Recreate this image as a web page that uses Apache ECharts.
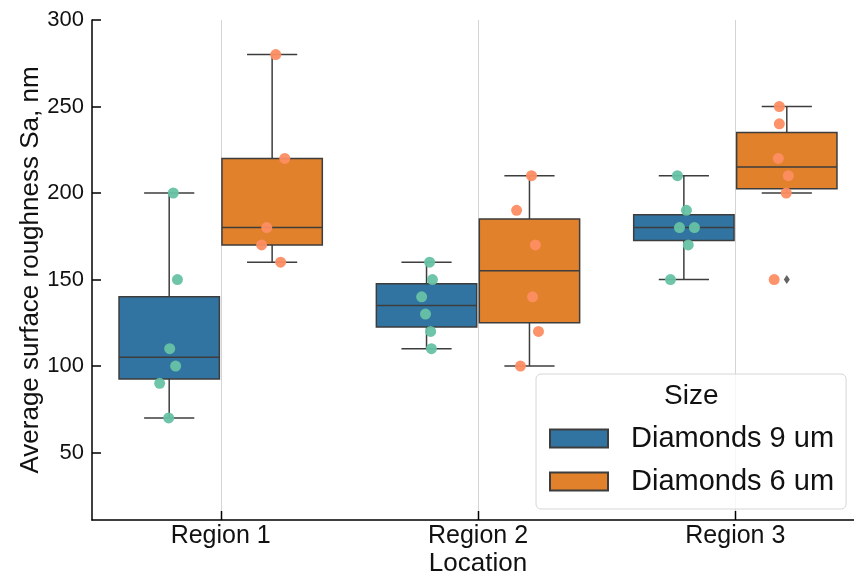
<!DOCTYPE html>
<html>
<head>
<meta charset="utf-8">
<title>Average surface roughness by location</title>
<script src="https://cdn.jsdelivr.net/npm/echarts@6/dist/echarts.min.js"></script>
<style>
  html, body { margin: 0; padding: 0; background: #ffffff; }
  #chart { width: 854px; height: 577px; }
</style>
</head>
<body>
<div id="chart"></div>
<script>
// Locations on the x axis
const categories = ['Region 1', 'Region 2', 'Region 3'];

// Measured Sa values (nm) per location, one list per diamond size
const sa9um = [
  [200, 150, 110, 100, 90, 70],
  [160, 150, 140, 130, 120, 110],
  [210, 190, 180, 180, 170, 150]
];
const sa6um = [
  [280, 220, 180, 170, 160],
  [210, 190, 170, 140, 120, 100],
  [250, 240, 220, 210, 200, 150]
];

// Horizontal strip jitter of each dot (in category widths)
const jitter9um = [
  [0.016, 0.032, 0.002, 0.025, -0.037, -0.002],
  [0.012, 0.023, -0.019, -0.004, 0.016, 0.019],
  [-0.025, 0.010, -0.017, 0.041, 0.017, -0.052]
];
const jitter6um = [
  [0.014, 0.049, -0.021, -0.041, 0.033],
  [0.008, -0.050, 0.023, 0.012, 0.035, -0.035],
  [-0.029, -0.029, -0.033, 0.006, -0.002, -0.049]
];

// Y axis tick labels
const yTicks = [50, 100, 150, 200, 250, 300];

const seriesNames = ['Diamonds 9 um', 'Diamonds 6 um'];
const boxColors = ['#3274a1', '#e1812c'];
const dotColors = ['#66c2a5', '#fc8d62'];
const EDGE = '#3d3d3d';
const FONT = "'Liberation Sans', Arial, sans-serif";
const HUE_OFFSET = [-0.2, 0.2];
const BOX_W = 0.39;

// linear-interpolated percentile
function percentile(sorted, p) {
  const pos = (sorted.length - 1) * p;
  const lo = Math.floor(pos), hi = Math.ceil(pos);
  return sorted[lo] + (sorted[hi] - sorted[lo]) * (pos - lo);
}

// Tukey box statistics: [x, q1, median, q3, whiskerLow, whiskerHigh] + outliers
function boxStats(values, x) {
  const s = values.slice().sort((a, b) => a - b);
  const q1 = percentile(s, 0.25), med = percentile(s, 0.5), q3 = percentile(s, 0.75);
  const iqr = q3 - q1;
  const inside = s.filter(v => v >= q1 - 1.5 * iqr && v <= q3 + 1.5 * iqr);
  const outliers = s.filter(v => v < q1 - 1.5 * iqr || v > q3 + 1.5 * iqr);
  return {
    box: [x, q1, med, q3, Math.min(...inside), Math.max(...inside)],
    outliers: outliers.map(v => [x, v])
  };
}

const groups = [sa9um, sa6um];
const jitters = [jitter9um, jitter6um];

const boxData = [[], []];
const outlierData = [];
const dotData = [[], []];
groups.forEach((g, h) => {
  g.forEach((vals, i) => {
    const x = i + HUE_OFFSET[h];
    const st = boxStats(vals, x);
    boxData[h].push(st.box);
    outlierData.push(...st.outliers);
    vals.forEach((v, k) => dotData[h].push([x + jitters[h][i][k], v]));
  });
});

function renderBox(params, api) {
  const x = api.value(0);
  const w = api.size([BOX_W, 0])[0];
  const p1 = api.coord([x, api.value(1)]);
  const cx = p1[0], yq1 = p1[1];
  const ymed = api.coord([x, api.value(2)])[1];
  const yq3 = api.coord([x, api.value(3)])[1];
  const ylo = api.coord([x, api.value(4)])[1];
  const yhi = api.coord([x, api.value(5)])[1];
  const cap = w / 4;
  const ls = { stroke: EDGE, lineWidth: 1.5 };
  return {
    type: 'group',
    children: [
      { type: 'line', shape: { x1: cx, y1: yq1, x2: cx, y2: ylo }, style: ls },
      { type: 'line', shape: { x1: cx, y1: yq3, x2: cx, y2: yhi }, style: ls },
      { type: 'line', shape: { x1: cx - cap, y1: ylo, x2: cx + cap, y2: ylo }, style: ls },
      { type: 'line', shape: { x1: cx - cap, y1: yhi, x2: cx + cap, y2: yhi }, style: ls },
      { type: 'rect', shape: { x: cx - w / 2, y: yq3, width: w, height: yq1 - yq3 },
        style: { fill: api.visual('color'), stroke: EDGE, lineWidth: 1.5 } },
      { type: 'line', shape: { x1: cx - w / 2, y1: ymed, x2: cx + w / 2, y2: ymed }, style: ls }
    ]
  };
}

// vertical category guide line plus the inward tick on the x axis
function renderGridLine(params, api) {
  const cs = params.coordSys;
  const x = Math.round(api.coord([api.value(0), 0])[0]) + 0.5;
  const bottom = cs.y + cs.height;
  return {
    type: 'group',
    children: [
      { type: 'line', shape: { x1: x, y1: cs.y, x2: x, y2: bottom },
        style: { stroke: '#d4d4d4', lineWidth: 1 } },
      { type: 'line', shape: { x1: x, y1: bottom - 9, x2: x, y2: bottom },
        style: { stroke: '#000', lineWidth: 1.5 } }
    ]
  };
}

const chart = echarts.init(document.getElementById('chart'), null, { renderer: 'canvas' });

const option = {
  animation: false,
  backgroundColor: '#ffffff',
  textStyle: { fontFamily: FONT },
  grid: { left: 92, top: 20, width: 772, height: 500, containLabel: false, outerBoundsMode: 'none' },
  title: {
    text: 'Size',
    left: 664, top: 381, padding: 0,
    textStyle: { fontFamily: FONT, fontSize: 28, fontWeight: 'normal', color: '#111', lineHeight: 30 }
  },
  legend: {
    data: seriesNames,
    orient: 'vertical',
    left: 536, top: 374,
    padding: [50, 12, 13, 13],
    itemGap: 14,
    itemWidth: 58, itemHeight: 18,
    icon: 'rect',
    backgroundColor: 'rgba(255,255,255,0.8)',
    borderColor: '#d6d6d6', borderWidth: 1, borderRadius: 5,
    textStyle: { fontFamily: FONT, fontSize: 29, color: '#111', lineHeight: 28, padding: [0, 0, 0, 18] },
    selectedMode: false
  },
  xAxis: {
    type: 'value',
    min: -0.5, max: 2.5,
    name: 'Location',
    nameLocation: 'middle',
    nameGap: 31,
    nameMoveOverlap: false,
    nameTextStyle: { fontFamily: FONT, fontSize: 26, color: '#111' },
    axisLine: { onZero: false, lineStyle: { color: '#000', width: 1.5 } },
    axisTick: { show: false },
    axisLabel: { fontFamily: FONT, fontSize: 25, color: '#111', margin: 4,
                 customValues: categories.map((c, i) => i),
                 formatter: v => categories[Math.round(v)] },
    splitLine: { show: false }
  },
  yAxis: {
    type: 'value',
    min: 11, max: 300,
    name: 'Average surface roughness Sa, nm',
    nameLocation: 'middle',
    nameGap: 48,
    nameMoveOverlap: false,
    nameTextStyle: { fontFamily: FONT, fontSize: 26, color: '#111' },
    axisLine: { show: true, onZero: false, lineStyle: { color: '#000', width: 1.5 } },
    axisTick: { show: true, inside: true, length: 9, lineStyle: { color: '#000', width: 1.5 },
                customValues: yTicks },
    axisLabel: { fontFamily: FONT, fontSize: 22, color: '#111', margin: 8, customValues: yTicks },
    splitLine: { show: false }
  },
  series: [
    {
      name: 'grid',
      type: 'custom',
      renderItem: renderGridLine,
      data: categories.map((c, i) => [i]),
      encode: { x: 0 },
      silent: true,
      z: 1
    },
    ...seriesNames.map((name, h) => ({
      name: name,
      type: 'custom',
      renderItem: renderBox,
      data: boxData[h],
      encode: { x: 0, y: [1, 2, 3, 4, 5] },
      itemStyle: { color: boxColors[h], borderColor: EDGE, borderWidth: 0.8 },
      z: 2
    })),
    ...seriesNames.map((name, h) => ({
      name: name + ' points',
      type: 'scatter',
      data: dotData[h],
      symbol: 'circle',
      symbolSize: 11,
      itemStyle: { color: dotColors[h], opacity: 0.95 },
      z: 3
    })),
    {
      name: 'outliers',
      type: 'scatter',
      data: outlierData,
      symbol: 'diamond',
      symbolSize: [6, 9],
      itemStyle: { color: EDGE },
      z: 4
    }
  ]
};

chart.setOption(option);
</script>
</body>
</html>
